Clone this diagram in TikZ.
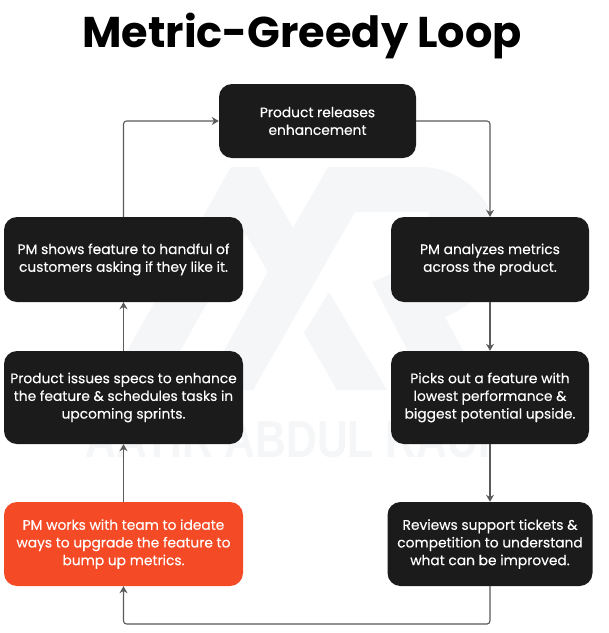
\documentclass[tikz,border=0pt]{standalone}
\usepackage{fontspec}
\setmainfont{Poppins}
\newfontfamily\bodyfont[FakeBold=0.2]{Poppins}
\newfontfamily\wmfont{Liberation Sans}
\usetikzlibrary{arrows.meta}
\definecolor{boxdark}{HTML}{1B1B1B}
\definecolor{boxred}{HTML}{F44A25}
\definecolor{wire}{HTML}{5A5A5A}
\definecolor{wm}{HTML}{F5F6F8}
\tikzset{
  stepbox/.style={rounded corners=13pt,fill=boxdark,text=white,align=center,font=\bodyfont\fontsize{13.8}{17.7}\selectfont,inner sep=0pt},
  wire/.style={draw=wire,line width=1.1pt,rounded corners=3pt,-{Stealth[length=7pt,width=8pt]}},
  wmshape/.style={fill=wm,draw=none}
}
\begin{document}
\begin{tikzpicture}[x=1pt,y=-1pt]
\useasboundingbox (0,0) rectangle (609,633);
\fill[white] (0,0) rectangle (609,633);
% watermark
\fill[wmshape] (231,167) -- (258,167) -- (293,228) -- (328,167) -- (420,167)
  .. controls (462,167) and (497,200) .. (497,242)
  .. controls (497,280) and (475,305) .. (445,317)
  -- (484,390) -- (428,390) -- (372,282) -- (400,270) -- (430,212) -- (355,212)
  -- (253,390) -- (202,390) -- (268,272) -- (246,234) -- (158,390) -- (105,390) -- cycle;
\fill[wmshape] (329,292) -- (304,333) -- (337,390) -- (387,390) -- cycle;
\node[text=wm,font=\wmfont\bfseries\fontsize{52}{52}\selectfont,inner sep=0pt,anchor=base] (wmtext) at (295,457) {\scalebox{.82}[1]{AATIR ABDUL RAUF}};
% title
\node[font=\fontsize{43}{46}\selectfont\bfseries,inner sep=0pt,anchor=base] (title) at (302,47) {Metric-Greedy Loop};
% boxes
\node[stepbox,minimum width=197pt,minimum height=74pt] (top) at (317.5,121) {Product releases\\enhancement};
\node[stepbox,minimum width=239pt,minimum height=85pt] (l1) at (123.5,259.5) {PM shows feature to handful of\\customers asking if they like it.};
\node[stepbox,minimum width=239pt,minimum height=93pt] (l2) at (123.5,397.5) {Product issues specs to enhance\\the feature \& schedules tasks in\\upcoming sprints.};
\node[stepbox,fill=boxred,minimum width=239pt,minimum height=84pt] (l3) at (123.5,544) {PM works with team to ideate\\ways to upgrade the feature to\\bump up metrics.};
\node[stepbox,minimum width=198pt,minimum height=85pt] (r1) at (490,259.5) {PM analyzes metrics\\across the product.};
\node[stepbox,minimum width=198pt,minimum height=93pt] (r2) at (490,397.5) {Picks out a feature with\\lowest performance \&\\biggest potential upside.};
\node[stepbox,minimum width=205pt,minimum height=84pt] (r3) at (490,544) {Reviews support tickets \&\\competition to understand\\what can be improved.};
% connectors
\draw[wire] (top.east) -| (r1.north);
\draw[wire] (r1) -- (r2);
\draw[wire] (r2) -- (r3);
\coordinate (cornerR) at (490,624);
\coordinate (cornerL) at (123.5,624);
\draw[wire] (r3.south) -- (cornerR) -- (cornerL) -- (l3.south);
\draw[wire] (l3) -- (l2);
\draw[wire] (l2) -- (l1);
\draw[wire] (l1.north) |- (top.west);
\end{tikzpicture}
\end{document}
